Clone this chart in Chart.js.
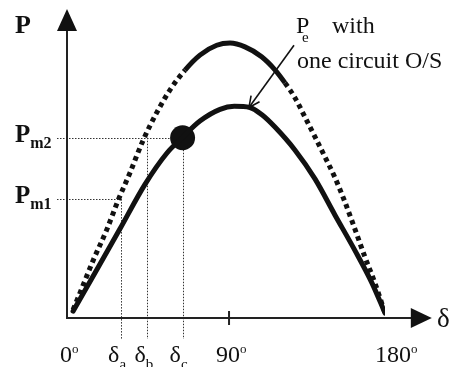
<!DOCTYPE html>
<html>
<head>
<meta charset="utf-8">
<script src="https://cdn.jsdelivr.net/npm/chart.js@4/dist/chart.umd.min.js"></script>
<style>
  html, body { margin: 0; padding: 0; background: #fff; }
  #wrap { position: relative; width: 454px; height: 367px; }
</style>
</head>
<body>
<div id="wrap"><canvas id="c"></canvas></div>
<script>
// Power-angle curves: P against rotor angle delta (degrees)
// Pre-fault curve (both circuits in service)
const deltaBoth = [0, 4, 11.7, 19.4, 26.1, 32.8, 40.5, 48.2, 55.9, 64.6, 73.2, 82.9, 90.6, 99.2, 108.8, 116.5, 122.3, 128.1, 133.8, 139.6, 145.4, 151.1, 156.9, 162.7, 168.4, 174.2, 180];
const pBoth     = [0.03, 0.092, 0.213, 0.323, 0.433, 0.532, 0.653, 0.752, 0.836, 0.909, 0.964, 1.0, 1.008, 0.994, 0.958, 0.91, 0.862, 0.807, 0.737, 0.664, 0.59, 0.515, 0.425, 0.325, 0.224, 0.128, 0.018];
// Curve with one circuit out of service
const deltaOne = [0, 13.6, 27, 41.5, 54.2, 62.8, 73.2, 84.8, 93, 102, 109, 116.5, 128, 139.6, 151.1, 162.7, 172.5, 180];
const pOne     = [0.025, 0.176, 0.326, 0.49, 0.605, 0.66, 0.722, 0.765, 0.776, 0.772, 0.745, 0.70, 0.616, 0.51, 0.378, 0.247, 0.128, 0.018];
// Operating angles and power levels
const markAngles = [27.7, 42.9, 63.2];
const markNames  = ['a', 'b', 'c'];
const powerLevels = [0.436, 0.661];
const powerNames  = ['m1', 'm2'];
// Section of the pre-fault curve drawn as a continuous line
const solidFrom = 64.6, solidTo = 122.3;
const tickValues = [0, 90, 180];
const tickNames  = ['0', '90', '180'];

const INK = '#111';
const SERIF = '"Liberation Serif", "DejaVu Serif", serif';

function toPoints(xs, ys) { return xs.map((x, i) => ({ x: x, y: ys[i] })); }

function drawSub(ctx, base, sub, x, y, baseFont, subFont, subDx, subDy) {
  ctx.font = baseFont;
  ctx.fillText(base, x, y);
  const w = ctx.measureText(base).width;
  ctx.font = subFont;
  ctx.fillText(sub, x + w + (subDx || 0), y + (subDy || 0));
}

const diagram = {
  id: 'diagram',
  beforeDatasetsDraw(chart) {
    const { ctx, chartArea, scales } = chart;
    const xs = scales.x, ys = scales.y;
    const y0 = ys.getPixelForValue(0);
    const ax = chartArea.left;
    ctx.save();
    // guide lines
    ctx.strokeStyle = '#333';
    ctx.lineWidth = 1;
    ctx.setLineDash([1.5, 1.5]);
    const bottom = y0 + 21;
    // P_m1 to delta_a, P_m2 to delta_c
    const hl = [
      [powerLevels[0], markAngles[0]],
      [powerLevels[1], markAngles[2]]
    ];
    hl.forEach(([p, d]) => {
      const py = Math.round(ys.getPixelForValue(p)) + 0.5;
      ctx.beginPath();
      ctx.moveTo(ax - 10, py);
      ctx.lineTo(xs.getPixelForValue(d), py);
      ctx.stroke();
    });
    const vStart = [powerLevels[0], powerLevels[1], powerLevels[1]];
    markAngles.forEach((d, i) => {
      const px = Math.round(xs.getPixelForValue(d)) + 0.5;
      ctx.beginPath();
      ctx.moveTo(px, ys.getPixelForValue(vStart[i]));
      ctx.lineTo(px, bottom);
      ctx.stroke();
    });
    ctx.setLineDash([]);
    // axes
    ctx.strokeStyle = '#222';
    ctx.fillStyle = '#111';
    ctx.lineWidth = 2;
    const xTip = xs.getPixelForValue(207);
    const yTip = ys.getPixelForValue(1.133);
    ctx.beginPath();
    ctx.moveTo(ax, yTip + 20);
    ctx.lineTo(ax, y0);
    ctx.lineTo(xTip - 20, y0);
    ctx.stroke();
    ctx.beginPath();
    ctx.moveTo(ax, yTip);
    ctx.lineTo(ax - 10, yTip + 22);
    ctx.lineTo(ax + 10, yTip + 22);
    ctx.closePath();
    ctx.fill();
    ctx.beginPath();
    ctx.moveTo(xTip, y0);
    ctx.lineTo(xTip - 21, y0 - 10);
    ctx.lineTo(xTip - 21, y0 + 10);
    ctx.closePath();
    ctx.fill();
    // tick at 90 degrees
    const t90 = xs.getPixelForValue(90);
    ctx.lineWidth = 2;
    ctx.beginPath();
    ctx.moveTo(t90, y0 - 7);
    ctx.lineTo(t90, y0 + 7);
    ctx.stroke();
    ctx.restore();
  },
  afterDraw(chart) {
    const { ctx, scales } = chart;
    const xs = scales.x, ys = scales.y;
    ctx.save();
    ctx.fillStyle = INK;
    ctx.strokeStyle = INK;
    // annotation arrow
    const ax0 = xs.getPixelForValue(127.5), ay0 = ys.getPixelForValue(1.0);
    const ax1 = xs.getPixelForValue(101.5), ay1 = ys.getPixelForValue(0.772);
    ctx.lineWidth = 1.6;
    ctx.beginPath();
    ctx.moveTo(ax0, ay0);
    ctx.lineTo(ax1, ay1);
    ctx.stroke();
    const ang = Math.atan2(ay1 - ay0, ax1 - ax0);
    const hl = 12, spread = 0.45;
    ctx.beginPath();
    ctx.moveTo(ax1 - hl * Math.cos(ang - spread), ay1 - hl * Math.sin(ang - spread));
    ctx.lineTo(ax1, ay1);
    ctx.lineTo(ax1 - hl * Math.cos(ang + spread), ay1 - hl * Math.sin(ang + spread));
    ctx.stroke();

    ctx.textBaseline = 'alphabetic';
    ctx.textAlign = 'left';
    // axis names
    ctx.font = 'bold 26px ' + SERIF;
    ctx.fillText('P', 15, 33);
    ctx.font = '27px ' + SERIF;
    ctx.fillText('\u03b4', 437, 327);
    // power levels on the P axis
    powerNames.forEach((n, i) => {
      const py = ys.getPixelForValue(powerLevels[i]);
      drawSub(ctx, 'P', n, 15, py + 4, 'bold 25px ' + SERIF, 'bold 16px ' + SERIF, 0, 6);
    });
    // angle ticks
    tickNames.forEach((n, i) => {
      const px = xs.getPixelForValue(tickValues[i]);
      ctx.font = '24px ' + SERIF;
      const left = px - (i === 2 ? 10 : 13);
      ctx.fillText(n, left, 362);
      const w = ctx.measureText(n).width;
      ctx.font = '13px ' + SERIF;
      ctx.fillText('o', left + w, 353);
    });
    markAngles.forEach((d, i) => {
      const px = xs.getPixelForValue(d);
      drawSub(ctx, '\u03b4', markNames[i], px - 13, 362, '24px ' + SERIF, '15px ' + SERIF, 0, 7);
    });
    // curve label
    ctx.font = '24px ' + SERIF;
    ctx.fillText('P', 296, 33);
    ctx.font = '15px ' + SERIF;
    ctx.fillText('e', 302, 42);
    ctx.font = '24px ' + SERIF;
    ctx.fillText('with', 332, 33);
    ctx.fillText('one circuit O/S', 297, 68);
    ctx.restore();
  }
};

new Chart(document.getElementById('c'), {
  type: 'scatter',
  data: {
    datasets: [
      {
        label: 'Both circuits',
        data: toPoints(deltaBoth, pBoth),
        showLine: true,
        borderColor: INK,
        borderWidth: 5,
        pointRadius: 0,
        cubicInterpolationMode: 'monotone',
        borderCapStyle: 'butt',
        borderJoinStyle: 'round',
        segment: {
          borderDash: c => (c.p1.parsed.x <= solidFrom || c.p0.parsed.x >= solidTo) ? [4.5, 4] : []
        }
      },
      {
        label: 'One circuit O/S',
        data: toPoints(deltaOne, pOne),
        showLine: true,
        borderColor: INK,
        borderWidth: 5,
        pointRadius: 0,
        cubicInterpolationMode: 'monotone',
        borderCapStyle: 'round',
        borderJoinStyle: 'round'
      },
      {
        label: 'Operating point',
        data: [{ x: markAngles[2], y: powerLevels[1] }],
        pointRadius: 12.5,
        pointBackgroundColor: INK,
        pointBorderColor: INK,
        borderWidth: 0
      }
    ]
  },
  options: {
    responsive: true,
    maintainAspectRatio: false,
    animation: false,
    layout: { padding: { left: 67, right: 69, top: 18, bottom: 49 } },
    plugins: { legend: { display: false }, tooltip: { enabled: false } },
    scales: {
      x: { type: 'linear', min: -3.5, max: 180, display: false },
      y: { type: 'linear', min: 0, max: 1.1, display: false }
    }
  },
  plugins: [diagram]
});
</script>
</body>
</html>
